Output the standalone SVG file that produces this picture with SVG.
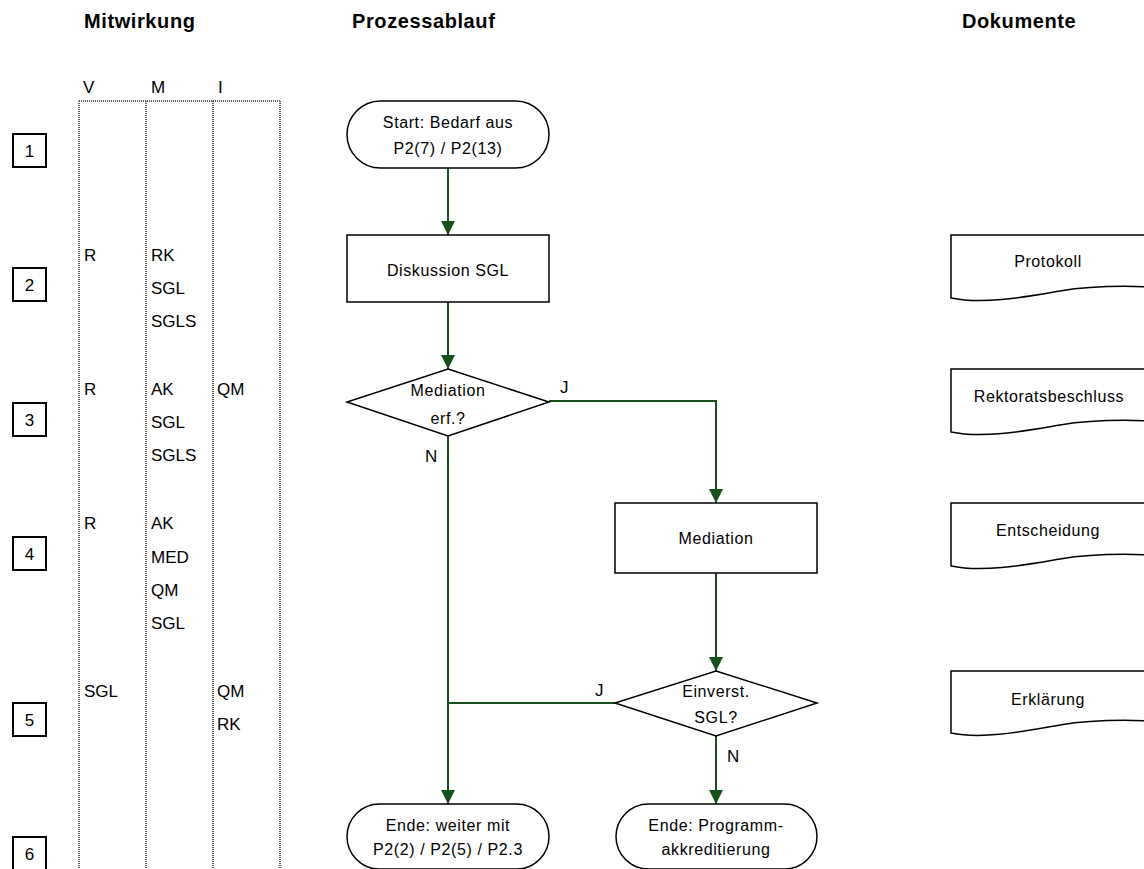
<svg xmlns="http://www.w3.org/2000/svg" width="1144" height="869" viewBox="0 0 1144 869">
  <style>
    text { font-family: "Liberation Sans", Arial, sans-serif; fill: #000; }
    .hdr { font-size: 20px; font-weight: bold; letter-spacing: 0.6px; }
    .cell { font-size: 17px; }
    .lbl { font-size: 16px; letter-spacing: 0.6px; text-anchor: middle; }
    .num { font-size: 17px; text-anchor: middle; }
    .yn { font-size: 17px; }
    .lane { fill: none; stroke: #5a5a5a; stroke-width: 2; stroke-dasharray: 1 1; }
    .step { fill: none; stroke: #000; stroke-width: 2; }
    .shape { fill: #fff; stroke: #000; stroke-width: 1.5; }
    .flow { fill: none; stroke: #17501a; stroke-width: 2; }
  </style>
  <defs>
    <marker id="arrow" markerUnits="userSpaceOnUse" markerWidth="14" markerHeight="14" refX="14" refY="7" orient="auto">
      <path d="M0,0 L14,7 L0,14 z" fill="#17501a"/>
    </marker>
  </defs>

  <!-- column headings -->
  <g id="headings">
    <text class="hdr" x="84" y="28">Mitwirkung</text>
    <text class="hdr" x="352" y="28">Prozessablauf</text>
    <text class="hdr" x="962" y="28">Dokumente</text>
  </g>

  <!-- participation lanes V / M / I -->
  <g id="lanes">
    <text class="cell" x="83" y="93">V</text>
    <text class="cell" x="151" y="93">M</text>
    <text class="cell" x="218" y="93">I</text>
    <path class="lane" d="M79,101 H280 M79,101 V869 M146,101 V869 M213,101 V869 M280,101 V869"/>
  </g>

  <!-- step numbers -->
  <g id="steps">
    <rect class="step" x="13" y="134" width="33" height="33"/><text class="num" x="29.5" y="157">1</text>
    <rect class="step" x="13" y="268" width="33" height="33"/><text class="num" x="29.5" y="291">2</text>
    <rect class="step" x="13" y="403" width="33" height="33"/><text class="num" x="29.5" y="426">3</text>
    <rect class="step" x="13" y="537" width="33" height="33"/><text class="num" x="29.5" y="560">4</text>
    <rect class="step" x="13" y="703" width="33" height="33"/><text class="num" x="29.5" y="726">5</text>
    <rect class="step" x="13" y="837" width="33" height="33"/><text class="num" x="29.5" y="860">6</text>
  </g>

  <!-- roles per step -->
  <g id="roles">
    <text class="cell" x="84" y="261">R</text>
    <text class="cell" x="151" y="261">RK</text>
    <text class="cell" x="151" y="294">SGL</text>
    <text class="cell" x="151" y="327">SGLS</text>

    <text class="cell" x="84" y="395">R</text>
    <text class="cell" x="151" y="395">AK</text>
    <text class="cell" x="217" y="395">QM</text>
    <text class="cell" x="151" y="428">SGL</text>
    <text class="cell" x="151" y="461">SGLS</text>

    <text class="cell" x="84" y="529">R</text>
    <text class="cell" x="151" y="529">AK</text>
    <text class="cell" x="151" y="563">MED</text>
    <text class="cell" x="151" y="596">QM</text>
    <text class="cell" x="151" y="629">SGL</text>

    <text class="cell" x="84" y="697">SGL</text>
    <text class="cell" x="217" y="697">QM</text>
    <text class="cell" x="217" y="730">RK</text>
  </g>

  <!-- connectors -->
  <g id="connectors">
    <path class="flow" d="M448,168 V235" marker-end="url(#arrow)"/>
    <path class="flow" d="M448,302 V369" marker-end="url(#arrow)"/>
    <path class="flow" d="M549,401 H716 V503" marker-end="url(#arrow)"/>
    <path class="flow" d="M448,436 V804" marker-end="url(#arrow)"/>
    <path class="flow" d="M716,573 V671" marker-end="url(#arrow)"/>
    <path class="flow" d="M615,703 H448"/>
    <path class="flow" d="M716,736 V804" marker-end="url(#arrow)"/>
    <text class="yn" x="560" y="393">J</text>
    <text class="yn" x="425" y="462">N</text>
    <text class="yn" x="595" y="696">J</text>
    <text class="yn" x="727" y="762">N</text>
  </g>

  <!-- process nodes -->
  <g id="start">
    <rect class="shape" x="347" y="101" width="202" height="67" rx="33.5"/>
    <text class="lbl" x="448" y="128">Start: Bedarf aus</text>
    <text class="lbl" x="448" y="154">P2(7) / P2(13)</text>
  </g>
  <g id="diskussion">
    <rect class="shape" x="347" y="235" width="202" height="67"/>
    <text class="lbl" x="448" y="276">Diskussion SGL</text>
  </g>
  <g id="mediation-erf">
    <polygon class="shape" points="448,369 549,402 448,436 347,402"/>
    <text class="lbl" x="448" y="396">Mediation</text>
    <text class="lbl" x="448" y="424">erf.?</text>
  </g>
  <g id="mediation">
    <rect class="shape" x="615" y="503" width="202" height="70"/>
    <text class="lbl" x="716" y="544">Mediation</text>
  </g>
  <g id="einverst">
    <polygon class="shape" points="716,671 817,703 716,736 615,703"/>
    <text class="lbl" x="716" y="697">Einverst.</text>
    <text class="lbl" x="716" y="723">SGL?</text>
  </g>
  <g id="ende-weiter">
    <rect class="shape" x="347" y="804" width="202" height="65" rx="32.5"/>
    <text class="lbl" x="448" y="831">Ende: weiter mit</text>
    <text class="lbl" x="448" y="855">P2(2) / P2(5) / P2.3</text>
  </g>
  <g id="ende-akkreditierung">
    <rect class="shape" x="616" y="804" width="201" height="65" rx="32.5"/>
    <text class="lbl" x="716" y="831">Ende: Programm-</text>
    <text class="lbl" x="716" y="855">akkreditierung</text>
  </g>

  <!-- documents -->
  <g id="doc-protokoll">
    <path class="shape" d="M951,235 H1153 V287 C1130,286 1090,286 1060,291 C1030,296 985,305 951,298 Z"/>
    <text class="lbl" x="1048" y="267">Protokoll</text>
  </g>
  <g id="doc-rektoratsbeschluss">
    <path class="shape" d="M951,369 H1153 V421 C1130,420 1090,420 1060,425 C1030,430 985,439 951,432 Z"/>
    <text class="lbl" x="1049" y="402">Rektoratsbeschluss</text>
  </g>
  <g id="doc-entscheidung">
    <path class="shape" d="M951,503 H1153 V555 C1130,554 1090,554 1060,559 C1030,564 985,573 951,566 Z"/>
    <text class="lbl" x="1048" y="536">Entscheidung</text>
  </g>
  <g id="doc-erklaerung">
    <path class="shape" d="M951,671 H1153 V721 C1130,720 1090,720 1060,725 C1030,730 985,740 951,733 Z"/>
    <text class="lbl" x="1048" y="705">Erklärung</text>
  </g>
</svg>
